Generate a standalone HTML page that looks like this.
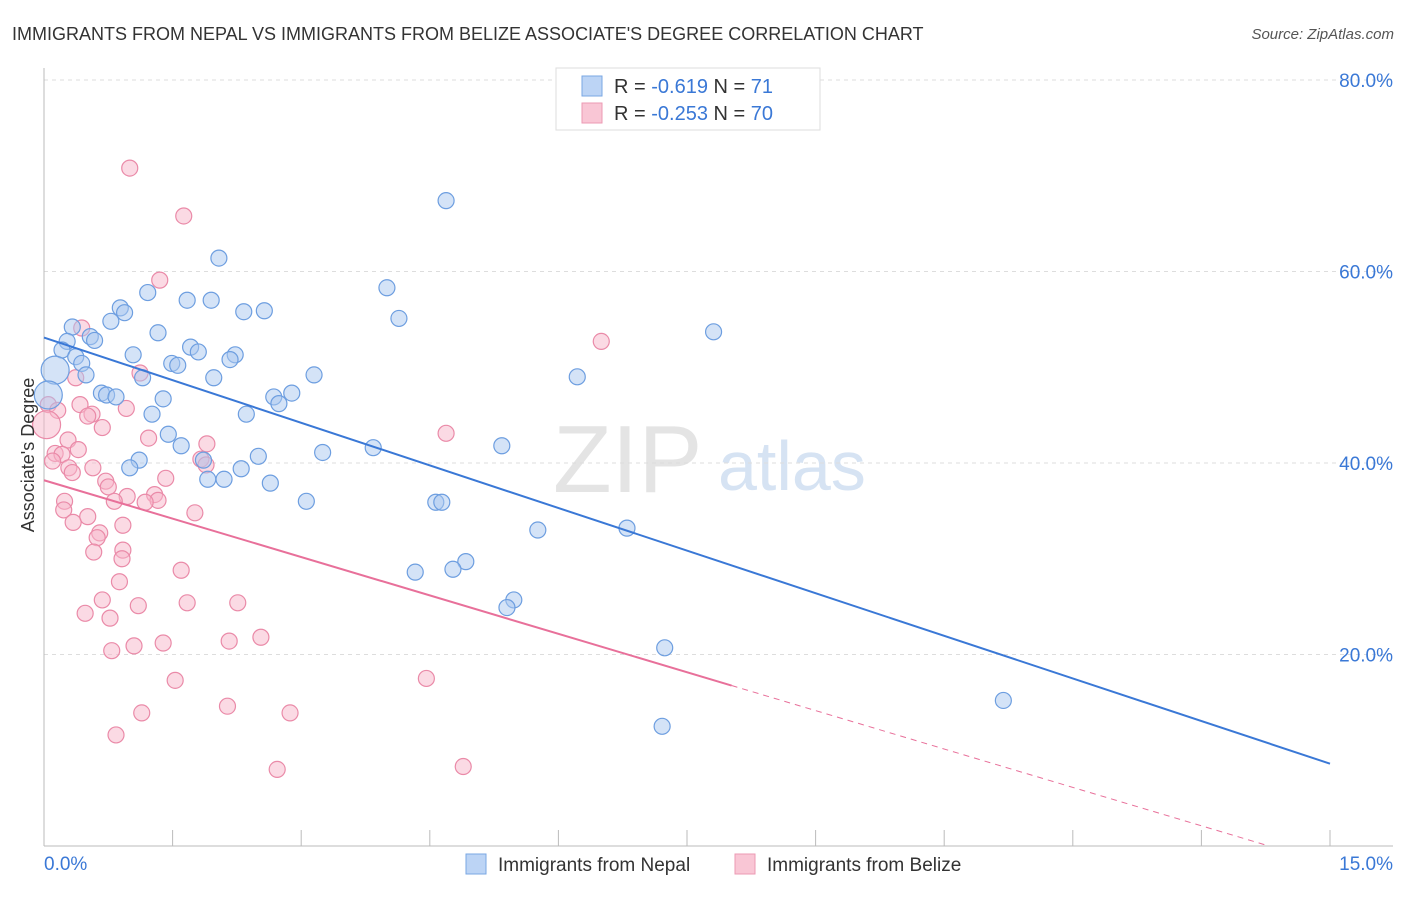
<!DOCTYPE html>
<html><head><meta charset="utf-8"><style>
body{margin:0;background:#fff;font-family:"Liberation Sans",sans-serif}
svg text{font-family:"Liberation Sans",sans-serif}
</style></head><body>
<svg id="chart" width="1406" height="892">
<text x="12" y="40" font-size="18" fill="#333">IMMIGRANTS FROM NEPAL VS IMMIGRANTS FROM BELIZE ASSOCIATE'S DEGREE CORRELATION CHART</text>
<text x="1394" y="39" font-size="15" fill="#555" font-style="italic" text-anchor="end">Source: ZipAtlas.com</text>
<g><text x="553" y="492" font-size="96" fill="#e4e4e4" font-family="Liberation Serif">ZIP</text><text x="718" y="490" font-size="70" fill="#d6e3f3">atlas</text></g>
<g id="grid"></g>
<g id="axes"></g>
<g id="marks"></g>
<text transform="translate(34,455) rotate(-90)" font-size="18" fill="#333" text-anchor="middle">Associate's Degree</text>
<g>
<rect x="556" y="68" width="264" height="62" fill="#fff" stroke="#ddd"/>
<rect x="582" y="76" width="20" height="20" fill="#bcd4f5" stroke="#7aa7e3"/>
<rect x="582" y="103" width="20" height="20" fill="#f9c6d5" stroke="#ec9ab3"/>
<text x="614" y="93" font-size="20" fill="#333">R = <tspan fill="#3a78d6">-0.619</tspan>   N = <tspan fill="#3a78d6"> 71</tspan></text>
<text x="614" y="120" font-size="20" fill="#333">R = <tspan fill="#3a78d6">-0.253</tspan>   N = <tspan fill="#3a78d6">70</tspan></text>
</g>
<g>
<rect x="466" y="854" width="20" height="20" fill="#bcd4f5" stroke="#7aa7e3"/>
<text x="498" y="871" font-size="19" fill="#333">Immigrants from Nepal</text>
<rect x="735" y="854" width="20" height="20" fill="#f9c6d5" stroke="#ec9ab3"/>
<text x="767" y="871" font-size="19" fill="#333">Immigrants from Belize</text>
</g>
</svg>
<script>
const nepalX=[4.69,2.04,4.00,1.21,1.67,1.95,0.89,0.94,2.33,2.57,4.14,0.78,0.33,7.81,1.33,0.54,0.59,0.27,1.71,0.21,1.80,2.23,1.04,0.37,2.17,1.49,1.56,0.44,0.13,0.49,3.15,1.15,1.98,6.22,0.67,0.73,0.84,2.89,2.68,1.39,2.74,0.05,1.26,2.36,1.45,1.60,5.34,3.84,3.25,2.50,1.86,1.11,1.00,2.30,1.91,2.10,2.64,3.06,4.57,4.64,5.76,6.80,4.92,4.77,4.33,5.48,5.40,7.24,11.19,7.21];
const nepalY=[67.4,61.4,58.3,57.8,57.0,57.0,56.2,55.7,55.8,55.9,55.1,54.8,54.2,53.7,53.6,53.2,52.8,52.7,52.1,51.8,51.6,51.3,51.3,51.1,50.8,50.4,50.2,50.4,49.7,49.2,49.2,48.9,48.9,49.0,47.3,47.1,46.9,47.3,46.9,46.7,46.2,47.1,45.1,45.1,43.0,41.8,41.8,41.6,41.1,40.7,40.3,40.3,39.5,39.4,38.3,38.3,37.9,36.0,35.9,35.9,33.0,33.2,29.7,28.9,28.6,25.7,24.9,20.7,15.2,12.5];
const belizeX=[1.00,1.63,1.35,6.50,0.44,1.12,0.37,0.05,0.16,0.42,0.96,0.56,0.51,0.03,0.68,4.69,1.22,0.28,1.90,0.40,0.13,0.21,1.83,0.10,1.89,0.57,0.29,0.33,1.42,0.72,0.75,1.29,0.97,0.24,0.82,1.33,1.18,0.23,0.51,1.76,0.34,0.92,0.65,0.62,0.92,0.58,0.91,1.60,0.88,0.68,1.67,2.26,1.10,0.48,0.77,2.53,1.39,2.16,1.05,0.79,1.53,4.46,2.14,2.87,1.14,0.84,2.72,4.89];
const belizeY=[70.8,65.8,59.1,52.7,54.1,49.4,48.9,46.1,45.5,46.1,45.7,45.1,44.9,44.0,43.7,43.1,42.6,42.4,42.0,41.4,41.0,40.9,40.4,40.2,39.8,39.5,39.5,39.0,38.4,38.1,37.5,36.7,36.5,36.0,36.0,36.1,35.9,35.1,34.4,34.8,33.8,33.5,32.7,32.2,30.9,30.7,30.0,28.8,27.6,25.7,25.4,25.4,25.1,24.3,23.8,21.8,21.2,21.4,20.9,20.4,17.3,17.5,14.6,13.9,13.9,11.6,8.0,8.3];
const nepalLarge=[28,41];
const belizeLarge=[13];
const nepalTrend=[53.1,8.6];
const belizeTrend=[38.2,-1.9];
const belizeSolidEnd=8.02;
const yTicks=[20,40,60,80];
const yTickLabels=["20.0%","40.0%","60.0%","80.0%"];
const xTickLabels=["0.0%","15.0%"];

const NS="http://www.w3.org/2000/svg";
const X0=44,X1=1330,Y0=846,Y80=80;
const sx=v=>X0+(X1-X0)*v/15;
const sy=v=>Y0-(Y0-Y80)*v/80;
function mk(parent,tag,attrs){const e=document.createElementNS(NS,tag);for(const k in attrs)e.setAttribute(k,attrs[k]);document.getElementById(parent).appendChild(e);return e;}
yTicks.forEach((t,i)=>{
 const g=mk('grid','line',{x1:X0,x2:1393,y1:sy(t),y2:sy(t),stroke:'#ddd','stroke-dasharray':'4,4'});
 
 
 const l=mk('axes','text',{x:1393,y:sy(t)+7,'font-size':19,fill:'#3a78d6','text-anchor':'end'});
 l.textContent=yTickLabels[i];
 
 
});
const ax=mk('axes','line',{x1:X0,x2:1393,y1:Y0,y2:Y0,stroke:'#bbb'});


const ay=mk('axes','line',{x1:X0,x2:X0,y1:68,y2:Y0,stroke:'#bbb'});


for(let i=0;i<=10;i++){
 const t=mk('axes','line',{x1:sx(i*1.5),x2:sx(i*1.5),y1:830,y2:Y0,stroke:'#bbb'});
 
 
}
const xl0=mk('axes','text',{x:44,y:870,'font-size':19,fill:'#3a78d6'});
xl0.textContent=xTickLabels[0];


const xl1=mk('axes','text',{x:1393,y:870,'font-size':19,fill:'#3a78d6','text-anchor':'end'});
xl1.textContent=xTickLabels[1];



function pts(xs,ys,large,fill,stroke,name){
 xs.forEach((x,i)=>{
  const c=mk('marks','circle',{cx:sx(x),cy:sy(ys[i]),r:large.includes(i)?14:8,fill:fill,'fill-opacity':0.5,stroke:stroke,'stroke-width':1.2});
  
  
 });
}
pts(belizeX,belizeY,belizeLarge,'#f7b6ca','#ea8aa8','belize-point');
pts(nepalX,nepalY,nepalLarge,'#a9c8f0','#6d9ee0','nepal-point');
const bt=v=>belizeTrend[0]+(belizeTrend[1]-belizeTrend[0])*v/15;
const l1=mk('marks','line',{x1:sx(0),y1:sy(nepalTrend[0]),x2:sx(15),y2:sy(nepalTrend[1]),stroke:'#3a78d6','stroke-width':2});


const l2=mk('marks','line',{x1:sx(0),y1:sy(bt(0)),x2:sx(belizeSolidEnd),y2:sy(bt(belizeSolidEnd)),stroke:'#e8709a','stroke-width':2});


const xz=15*(belizeTrend[0])/(belizeTrend[0]-belizeTrend[1]);
const l3=mk('marks','line',{x1:sx(belizeSolidEnd),y1:sy(bt(belizeSolidEnd)),x2:sx(xz),y2:sy(0),stroke:'#e8709a','stroke-width':1,'stroke-dasharray':'6,5'});


</script>
</body></html>
